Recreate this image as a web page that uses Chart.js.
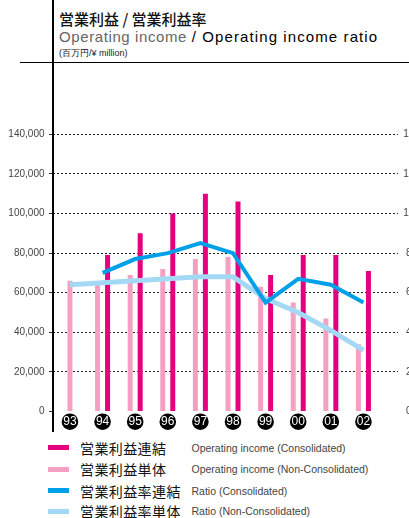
<!DOCTYPE html>
<html><head><meta charset="utf-8">
<script src="https://cdn.jsdelivr.net/npm/chart.js@4.4.1/dist/chart.umd.min.js"></script>
<style>
html,body{margin:0;padding:0;width:409px;height:518px;overflow:hidden;background:#fff;}
body{position:relative;font-family:"Liberation Sans",Arial,sans-serif;}
#wrap{position:absolute;left:0;top:123px;width:430px;height:310px;}
.vr{position:absolute;left:52px;top:0;width:1.5px;height:432px;background:#000;z-index:5}
.hr{position:absolute;left:20px;top:61.5px;width:389px;height:1.5px;background:#000}
.t1{position:absolute;left:59px;top:11px;font:500 15px/15px "Noto Sans CJK JP";color:#111;white-space:nowrap}
.t2{position:absolute;left:59px;top:29.3px;font:15px/15px "Liberation Sans",Arial,sans-serif;white-space:nowrap}
.t2 .a{color:#666;letter-spacing:0.6px}
.t2 .b{color:#000;letter-spacing:1.1px}
.t3{position:absolute;left:59px;top:48.5px;font:9px/9px "Liberation Sans",Arial,sans-serif;color:#222;white-space:nowrap}
.lg{position:absolute;left:0;width:409px;height:20px}
.lg .sw{position:absolute;left:48px;top:7.5px;width:21px;height:5px}
.lg .ja{position:absolute;left:80px;top:0;font:14px/20px "Noto Sans CJK JP";color:#111;letter-spacing:0.4px;white-space:nowrap}
.lg .en{position:absolute;left:191.5px;top:0;font:10.5px/20px "Liberation Sans",Arial,sans-serif;color:#444;white-space:nowrap}
</style></head>
<body>
<div class="t1">営業利益 / 営業利益率</div>
<div class="t2"><span class="a">Operating income </span><span class="b">/ Operating income ratio</span></div>
<div class="t3">(百万円/¥ million)</div>
<div class="hr"></div>
<div class="vr"></div>
<div id="wrap"><canvas id="c" width="430" height="310"></canvas></div>
<div id="legend"></div>
<script>
const years = ['93','94','95','96','97','98','99','00','01','02'];
const incomeConsolidated    = [null, 79000, 90000, 100000, 110000, 106000, 69000, 79000, 79000, 71000];
const incomeNonConsolidated = [66000, 65000, 69000, 72000, 77000, 78000, 63000, 55000, 47000, 34000];
const ratioConsolidated     = [null, 7.0, 7.7, 8.0, 8.5, 8.0, 5.5, 6.7, 6.4, 5.5];
const ratioNonConsolidated  = [6.4, 6.5, 6.6, 6.7, 6.8, 6.8, 5.7, 5.0, 4.1, 3.1];
const seriesJa = ['営業利益連結', '営業利益単体', '営業利益率連結', '営業利益率単体'];
const seriesEn = ['Operating income (Consolidated)', 'Operating income (Non-Consolidated)', 'Ratio (Consolidated)', 'Ratio (Non-Consolidated)'];

const colors = ['#e4007f', '#f5a0c2', '#00a0e9', '#a3d9f5'];
const legendTops = [437.5, 459, 480.5, 501];

// legend
const lg = document.getElementById('legend');
seriesJa.forEach((ja, i) => {
  const row = document.createElement('div');
  row.className = 'lg';
  row.style.top = legendTops[i] + 'px';
  row.innerHTML = '<div class="sw" style="background:' + colors[i] + '"></div><span class="ja">' + ja + '</span><span class="en">' + seriesEn[i] + '</span>';
  lg.appendChild(row);
});

const pts = arr => arr.map((v, i) => ({x: i, y: v}));

const circlePlugin = {
  id: 'circles',
  afterDatasetsDraw(chart) {
    const xs = chart.scales.x, ctx = chart.ctx;
    ctx.save();
    ctx.fillStyle = '#000';
    xs.ticks.forEach(t => {
      const x = xs.getPixelForValue(t.value);
      ctx.beginPath();
      ctx.arc(x, xs.top + 10.2, 8.3, 0, Math.PI * 2);
      ctx.fill();
    });
    ctx.restore();
  }
};

new Chart(document.getElementById('c'), {
  type: 'bar',
  data: {
    datasets: [
      {type: 'line', label: seriesJa[2], data: pts(ratioConsolidated), yAxisID: 'y1', borderColor: colors[2], borderWidth: 4, pointRadius: 0, tension: 0, fill: false, order: 0, borderJoinStyle: 'miter'},
      {type: 'line', label: seriesJa[3], data: pts(ratioNonConsolidated), yAxisID: 'y1', borderColor: colors[3], borderWidth: 5, pointRadius: 0, tension: 0, fill: false, order: 1, borderJoinStyle: 'miter'},
      {type: 'bar', label: seriesJa[1], data: pts(incomeNonConsolidated), yAxisID: 'y', backgroundColor: colors[1], order: 2, skipNull: true, categoryPercentage: 0.614, barPercentage: 0.5, maxBarThickness: 5},
      {type: 'bar', label: seriesJa[0], data: pts(incomeConsolidated), yAxisID: 'y', backgroundColor: colors[0], order: 2, skipNull: true, categoryPercentage: 0.614, barPercentage: 0.5, maxBarThickness: 5}
    ]
  },
  options: {
    responsive: false,
    animation: false,
    devicePixelRatio: 1,
    layout: {padding: {top: 10, left: 0, right: 0, bottom: 0}},
    plugins: {legend: {display: false}, tooltip: {enabled: false}},
    scales: {
      x: {
        type: 'linear', position: 'bottom', min: -0.52, max: 10.06, offset: false,
        afterBuildTicks: s => { s.ticks = years.map((_, i) => ({value: i})); },
        afterFit: s => { s.height = 21.5; },
        grid: {display: false, drawTicks: false, offset: false},
        border: {display: false},
        ticks: {
          z: 1, autoSkip: false, maxRotation: 0, padding: 3,
          color: '#fff',
          font: {size: 12, family: "'Liberation Sans Narrow', 'Liberation Sans', Arial, sans-serif"},
          callback: v => years[v]
        }
      },
      y: {
        position: 'left', min: 0, max: 140000,
        afterFit: s => { s.width = 53; },
        ticks: {stepSize: 20000, padding: 4.5, color: '#444', font: {size: 10, family: "'Liberation Sans', Arial, sans-serif"}, callback: v => v.toLocaleString('en-US')},
        grid: {color: c => (c.tick && c.tick.value === 0) ? 'rgba(0,0,0,0)' : '#222', tickColor: '#333', tickLength: 4, tickBorderDash: [], lineWidth: 1},
        border: {display: false, dash: [2, 2]}
      },
      y1: {
        position: 'right', min: 0, max: 14,
        afterFit: s => { s.width = 32; },
        ticks: {stepSize: 2, padding: 5.3, crossAlign: 'near', color: '#444', font: {size: 10, family: "'Liberation Sans', Arial, sans-serif"}, callback: v => (v < 10 ? '\u00a0' : '') + v},
        grid: {display: true, drawOnChartArea: false, drawTicks: false, tickLength: 0},
        border: {display: false}
      }
    }
  },
  plugins: [circlePlugin]
});
</script>
</body></html>
